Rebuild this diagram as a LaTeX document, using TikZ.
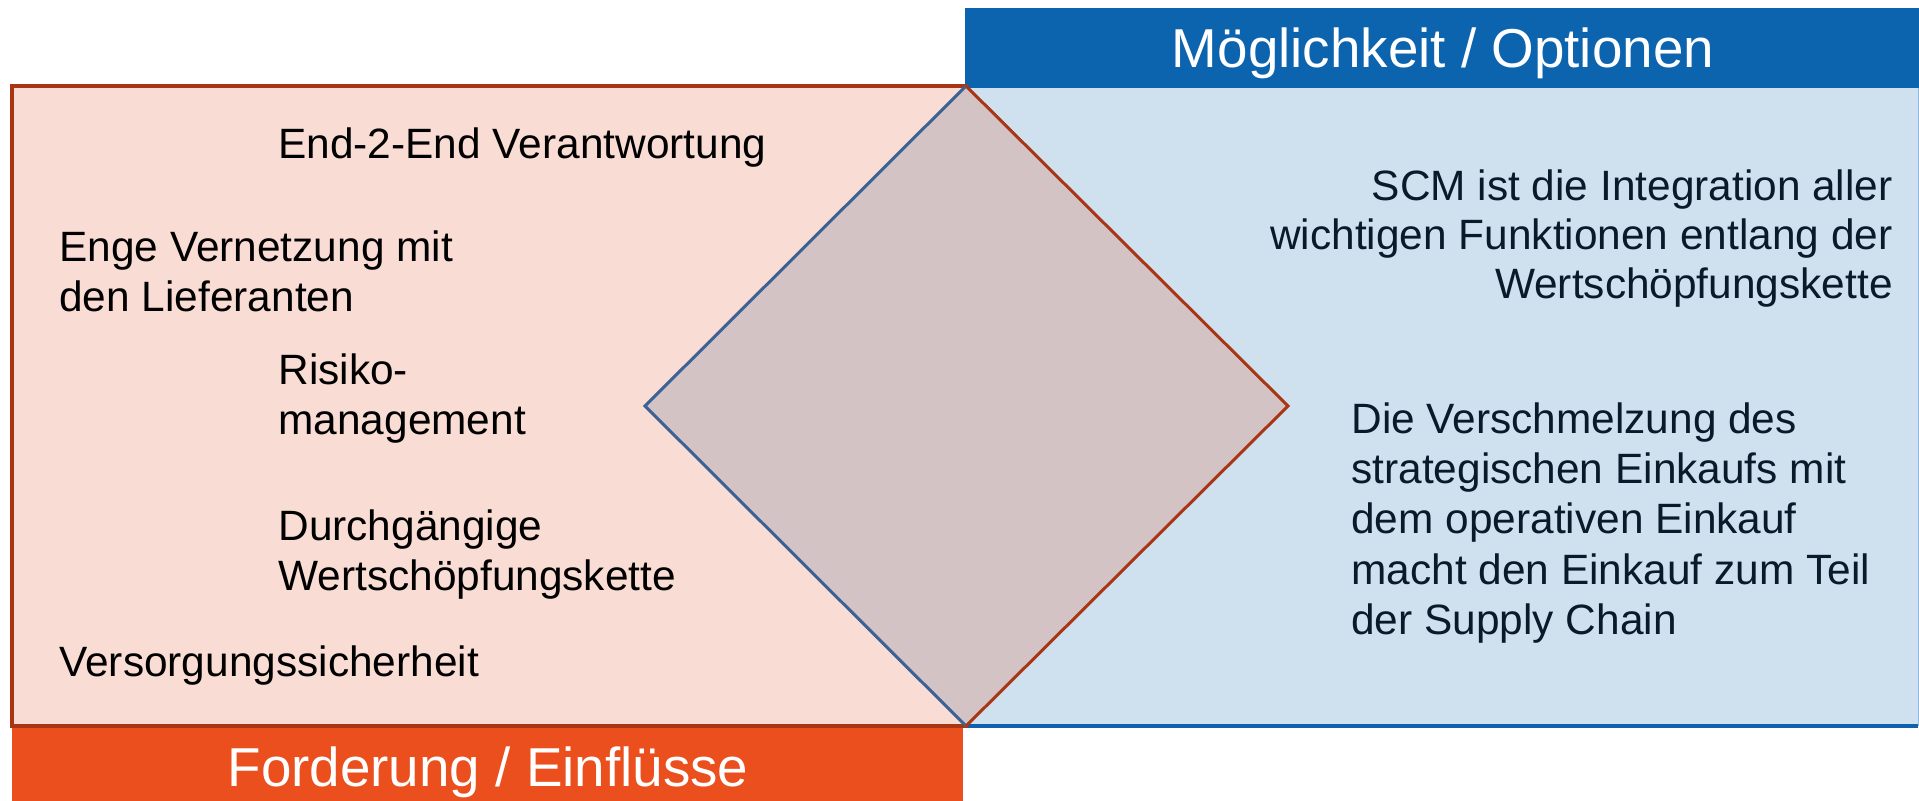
\documentclass[tikz,border=0pt]{standalone}
\usepackage{fontspec}
\setmainfont{Liberation Sans}
\definecolor{leftfill}{HTML}{F9DCD3}
\definecolor{rightfill}{HTML}{CFE0EE}
\definecolor{diafill}{HTML}{D4C3C5}
\definecolor{hdrblue}{HTML}{0C63AE}
\definecolor{ftrorange}{HTML}{EB4F1D}
\definecolor{redline}{HTML}{A83615}
\definecolor{blueline}{HTML}{3A6294}
\definecolor{bottomblue}{HTML}{1060AE}
\definecolor{rtext}{HTML}{0B1A2B}
\begin{document}
\begin{tikzpicture}[x=0.5pt,y=-0.5pt,
  bodytext/.style={inner sep=0pt,font=\fontsize{21.2pt}{25pt}\selectfont},
  lefttext/.style={bodytext,anchor=base west,text=black},
  rtxt/.style={bodytext,anchor=base west,text=rtext},
  rtxtr/.style={bodytext,anchor=base east,text=rtext},
  titletext/.style={inner sep=0pt,anchor=base,text=white,font=\fontsize{27.4pt}{30pt}\selectfont}]
\useasboundingbox (0,0) rectangle (1919,801);
\fill[white] (0,0) rectangle (1919,801);
% header and footer bars
\fill[hdrblue] (965,8) rectangle (1919,88);
\fill[ftrorange] (12,726) rectangle (963,801);
% right box
\fill[rightfill] (966,88) rectangle (1918,726);
\draw[rightfill!70!hdrblue, line width=0.4pt] (1918,88) -- (1918,726);
\draw[bottomblue, line width=1.6pt] (966,726) -- (1918,726);
% left box
\draw[redline, line width=1.6pt, fill=leftfill] (12,86) rectangle (966,726);
% diamond
\coordinate (dT) at (966,86);
\coordinate (dL) at (645,406);
\coordinate (dB) at (966,726);
\coordinate (dR) at (1288,406);
\fill[diafill] (dT) -- (dR) -- (dB) -- (dL) -- cycle;
\draw[blueline, line width=1.5pt, line join=miter] (dT) -- (dL) -- (dB);
\draw[redline, line width=1.5pt, line join=miter] (dT) -- (dR) -- (dB);
% titles
\node[titletext] (hdr) at (1443,68) {Möglichkeit / Optionen};
\node[titletext] (ftr) at (488,787) {Forderung / Einflüsse};
% left texts
\node[lefttext] (t1) at (278,159) {End-2-End Verantwortung};
\node[lefttext] (t2a) at (59,262) {Enge Vernetzung mit};
\node[lefttext] (t2b) at (59,312) {den Lieferanten};
\node[lefttext] (t3a) at (278,385) {Risiko-};
\node[lefttext] (t3b) at (278,435) {management};
\node[lefttext] (t4a) at (278,541) {Durchgängige};
\node[lefttext] (t4b) at (278,591) {Wertschöpfungskette};
\node[lefttext] (t5) at (59,677) {Versorgungssicherheit};
% right texts
\node[rtxtr] (s1) at (1893,201) {SCM ist die Integration aller};
\node[rtxtr] (s2) at (1893,250) {wichtigen Funktionen entlang der};
\node[rtxtr] (s3) at (1893,299) {Wertschöpfungskette};
\node[rtxt] (v1) at (1351,434) {Die Verschmelzung des};
\node[rtxt] (v2) at (1351,484) {strategischen Einkaufs mit};
\node[rtxt] (v3) at (1351,534) {dem operativen Einkauf};
\node[rtxt] (v4) at (1351,585) {macht den Einkauf zum Teil};
\node[rtxt] (v5) at (1351,635) {der Supply Chain};
\end{tikzpicture}
\end{document}
